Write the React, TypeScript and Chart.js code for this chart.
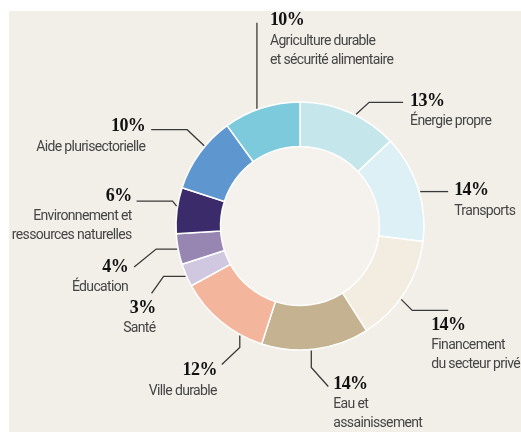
import React, { useEffect, useRef } from "react";
import { Chart, registerables } from "chart.js";

Chart.register(...registerables);

const categories = [
  "Énergie propre",
  "Transports",
  "Financement du secteur privé",
  "Eau et assainissement",
  "Ville durable",
  "Santé",
  "Éducation",
  "Environnement et ressources naturelles",
  "Aide plurisectorielle",
  "Agriculture durable et sécurité alimentaire",
];
const labelLines = [
  ["Énergie propre"],
  ["Transports"],
  ["Financement", "du secteur privé"],
  ["Eau et", "assainissement"],
  ["Ville durable"],
  ["Santé"],
  ["Éducation"],
  ["Environnement et", "ressources naturelles"],
  ["Aide plurisectorielle"],
  ["Agriculture durable", "et sécurité alimentaire"],
];
const shares = [13, 14, 14, 14, 12, 3, 4, 6, 10, 10];
const colors = [
  "#c5e6ea",
  "#dcf0f6",
  "#f3ece1",
  "#c4b290",
  "#f3b59c",
  "#d0c8e0",
  "#9786b2",
  "#3c2b6b",
  "#5e97d0",
  "#7ccadb",
];

// Leader-line layout (styling): anchor fraction along slice, bend offsets, text offset & alignment
const leaderT = [0.57, 0.54, 0.57, 0.54, 0.25, 0.47, 0.51, 0.59, 0.61, 0.44];
const leaderPaths: number[][][] = [
  [[13, -12], [47, -12]],
  [[28, 0]],
  [[11, 11], [47, 11]],
  [[0, 17], [17, 36]],
  [[0, 12], [-18, 29]],
  [[-22, 0], [-34, 17]],
  [[-21, 0], [-43, 18]],
  [[-4, -5], [-40, -5]],
  [[-17, -16], [-53, -16]],
  [[0, -86]],
];
const textOffsets: number[][] = [
  [54, -13],
  [34, -1],
  [30, 26],
  [22, 34],
  [-23, 35],
  [-30, 32],
  [-49, 18],
  [-45, -10],
  [-59, -19],
  [13, -88],
];
const textAlign: CanvasTextAlign[] = ["left", "left", "left", "left", "right", "right", "right", "right", "right", "left"];

const BG = "#f2efe9";
const HOLE = "#f5f2ee";

const panelPlugin = {
  id: "panel",
  beforeDraw(chart: any) {
    const { ctx, width, height } = chart;
    ctx.save();
    ctx.fillStyle = "#ffffff";
    ctx.fillRect(0, 0, width, height);
    ctx.fillStyle = BG;
    ctx.fillRect(9, 11, width - 9, height - 11);
    const meta = chart.getDatasetMeta(0);
    const arc = meta.data[0];
    if (arc) {
      const p = arc.getProps(["x", "y", "innerRadius"], true);
      ctx.fillStyle = HOLE;
      ctx.beginPath();
      ctx.arc(p.x, p.y, p.innerRadius, 0, Math.PI * 2);
      ctx.fill();
    }
    ctx.restore();
  },
};

const labelPlugin = {
  id: "leaderLabels",
  afterDatasetsDraw(chart: any) {
    const { ctx } = chart;
    const meta = chart.getDatasetMeta(0);
    ctx.save();
    meta.data.forEach((arc: any, i: number) => {
      const p = arc.getProps(["x", "y", "startAngle", "endAngle", "outerRadius"], true);
      const a = p.startAngle + (p.endAngle - p.startAngle) * leaderT[i];
      const ax = p.x + (p.outerRadius + 1) * Math.cos(a);
      const ay = p.y + (p.outerRadius + 1) * Math.sin(a);
      ctx.strokeStyle = "#3a3a3a";
      ctx.lineWidth = 1.3;
      ctx.beginPath();
      ctx.moveTo(ax, ay);
      leaderPaths[i].forEach(([dx, dy]) => ctx.lineTo(ax + dx, ay + dy));
      ctx.stroke();

      const tx = ax + textOffsets[i][0];
      const ty = ay + textOffsets[i][1];
      ctx.textAlign = textAlign[i];
      ctx.textBaseline = "middle";
      ctx.fillStyle = "#111111";
      ctx.font = "bold 18px 'Liberation Serif', serif";
      (ctx as any).letterSpacing = "-0.6px";
      ctx.fillText(`${shares[i]}%`, tx, ty);
      ctx.fillStyle = "#454545";
      ctx.font = "14px Roboto, sans-serif";
      (ctx as any).letterSpacing = "-0.65px";
      labelLines[i].forEach((line, k) => {
        ctx.fillText(line, tx, ty + 20.5 + 19 * k);
      });
    });
    ctx.restore();
  },
};

export default function App() {
  const ref = useRef<HTMLCanvasElement | null>(null);
  useEffect(() => {
    if (!ref.current) return;
    const chart = new Chart(ref.current, {
      type: "doughnut",
      data: {
        labels: categories,
        datasets: [
          {
            data: shares,
            backgroundColor: colors,
            borderColor: "#ffffff",
            borderWidth: 1.5,
          },
        ],
      },
      options: {
        responsive: false,
        animation: false,
        devicePixelRatio: 1,
        radius: 124,
        cutout: 79,
        layout: { padding: { left: 176, right: 97, top: 102, bottom: 82 } },
        plugins: {
          legend: { display: false },
          tooltip: { enabled: false },
        },
      } as any,
      plugins: [panelPlugin, labelPlugin],
    });
    return () => chart.destroy();
  }, []);
  return (
    <div style={{ position: "absolute", left: 0, top: 0, width: 521, height: 432, background: "#fff" }}>
      <canvas ref={ref} width={521} height={432} style={{ display: "block", width: 521, height: 432 }} />
    </div>
  );
}
